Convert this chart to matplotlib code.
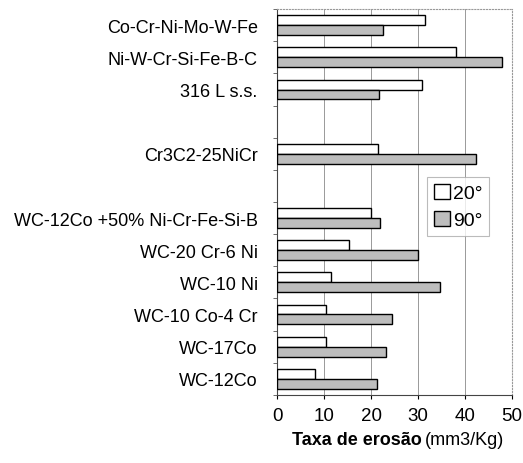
import numpy as np
import matplotlib
matplotlib.use("Agg")
import matplotlib.pyplot as plt

# data (top to bottom, "" = empty slot)
materials = ["Co-Cr-Ni-Mo-W-Fe", "Ni-W-Cr-Si-Fe-B-C", "316 L s.s.", "",
             "Cr3C2-25NiCr", "", "WC-12Co +50% Ni-Cr-Fe-Si-B",
             "WC-20 Cr-6 Ni", "WC-10 Ni", "WC-10 Co-4 Cr", "WC-17Co", "WC-12Co"]
rate_20 = [31.5, 38.0, 30.9, np.nan, 21.4, np.nan, 19.9, 15.2, 11.4, 10.3, 10.3, 8.1]
rate_90 = [22.5, 47.9, 21.7, np.nan, 42.4, np.nan, 21.9, 30.0, 34.7, 24.4, 23.2, 21.3]
series_labels = ["20°", "90°"]
x_ticks = [0, 10, 20, 30, 40, 50]

plt.rcParams["font.family"] = ["Liberation Sans", "DejaVu Sans"]

fig = plt.figure(figsize=(5.23, 4.64), dpi=100)
ax = fig.add_axes([0.530, 0.147, 0.449, 0.831])

y = np.arange(len(materials))
h = 0.31
ax.barh(y - h / 2, rate_20, height=h, color="white", edgecolor="black",
        linewidth=1.0, label=series_labels[0], zorder=3)
ax.barh(y + h / 2, rate_90, height=h, color="#bdbdbd", edgecolor="black",
        linewidth=1.0, label=series_labels[1], zorder=3)

ax.set_ylim(len(materials) - 0.5, -0.5)
ax.set_xlim(0, 50)
ax.set_xticks(x_ticks)
ax.tick_params(axis="x", labelsize=13.5, length=3, pad=6)

ax.set_yticks(y)
ax.set_yticklabels(materials, fontsize=13)
ax.set_yticks(np.arange(len(materials) + 1) - 0.5, minor=True)
ax.tick_params(axis="y", which="major", length=0, pad=14)
ax.tick_params(axis="y", which="minor", length=3, color="#555555")

ax.grid(axis="x", color="#999999", linewidth=0.7, zorder=0)
for side in ["top", "right"]:
    ax.spines[side].set_linestyle(":")
    ax.spines[side].set_color("#999999")
ax.spines["left"].set_color("#444444")
ax.spines["bottom"].set_color("#444444")

leg = ax.legend(loc="upper left", bbox_to_anchor=(0.64, 0.565), fontsize=14,
                frameon=True, fancybox=False, edgecolor="#aaaaaa",
                handlelength=0.8, handleheight=0.8, handletextpad=0.15,
                borderpad=0.35, labelspacing=0.45, borderaxespad=0)
leg.get_frame().set_linewidth(0.8)

fig.text(0.807, 0.050, "Taxa de erosão", fontsize=13, fontweight="bold",
         ha="right", va="center")
fig.text(0.813, 0.050, "(mm3/Kg)", fontsize=13, ha="left", va="center")

fig.savefig("out.png", dpi=100)
